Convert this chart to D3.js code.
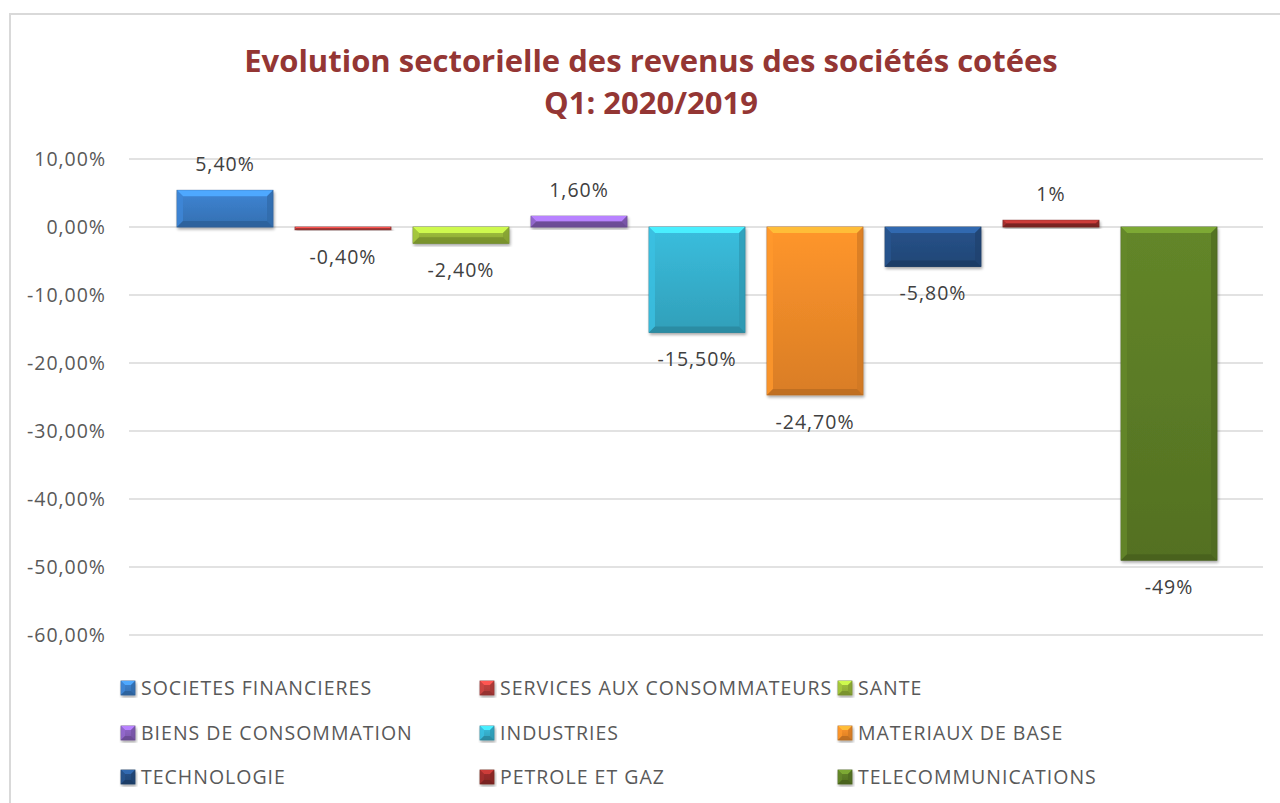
<!DOCTYPE html>
<html><head><meta charset="utf-8">
<script src="https://cdn.jsdelivr.net/npm/d3@7"></script>
<style>html,body{margin:0;padding:0;background:#fff;}svg{display:block;}</style>
</head><body>
<svg id="chart" width="1280" height="803"></svg>
<script>
const categories = ["SOCIETES FINANCIERES","SERVICES AUX CONSOMMATEURS","SANTE","BIENS DE CONSOMMATION","INDUSTRIES","MATERIAUX DE BASE","TECHNOLOGIE","PETROLE ET GAZ","TELECOMMUNICATIONS"];
const values = [5.4, -0.4, -2.4, 1.6, -15.5, -24.7, -5.8, 1, -49];
const valueLabels = ["5,40%","-0,40%","-2,40%","1,60%","-15,50%","-24,70%","-5,80%","1%","-49%"];
const colors = ["#3b7ec9","#c0413e","#9bbb3b","#8a62c0","#37b4d2","#f68e2a","#254f84","#9a2d2b","#5e7f27"];
const yTicks = [10,0,-10,-20,-30,-40,-50,-60];
const yTickLabels = ["10,00%","0,00%","-10,00%","-20,00%","-30,00%","-40,00%","-50,00%","-60,00%"];
const titleLines = ["Evolution sectorielle des revenus des sociétés cotées","Q1: 2020/2019"];

const FONT = "'Open Sans', Lato, sans-serif";
const FS = 19.5, LS = 1;
const svg = d3.select("#chart");
const defs = svg.append("defs");

// chart frame
svg.append("rect").attr("x",10).attr("y",14).attr("width",1290).attr("height",800)
  .attr("fill","#fff").attr("stroke","#d9d9d9").attr("stroke-width",2);

// title
svg.append("g").selectAll("text").data(titleLines).join("text")
  .attr("x",651).attr("y",(d,i)=>72+i*42).attr("text-anchor","middle")
  .attr("font-family",FONT).attr("font-weight","bold").attr("font-size",31)
  .attr("fill","#943634").text(d=>d);

const plotL = 129, plotR = 1263;
const y = d3.scaleLinear().domain([-60,10]).range([635,159]);
const x = d3.scaleBand().domain(categories).range([166,1228]).paddingInner(0.1864).paddingOuter(0.0932);

// gridlines
svg.append("g").selectAll("line").data(yTicks).join("line")
  .attr("x1",plotL).attr("x2",plotR).attr("y1",d=>y(d)).attr("y2",d=>y(d))
  .attr("stroke","#d9d9d9").attr("stroke-width",1.5);

// y axis labels via d3 axis
const yAxis = d3.axisLeft(y).tickValues(yTicks).tickSize(0).tickPadding(0)
  .tickFormat((d)=>yTickLabels[yTicks.indexOf(d)]);
const ga = svg.append("g").attr("transform","translate(106,0)").call(yAxis);
ga.select(".domain").remove();
ga.selectAll("text").attr("font-family",FONT).attr("font-size",FS).attr("letter-spacing",LS)
  .attr("fill","#595959").attr("dy","0.35em");

// shadow filter
const f = defs.append("filter").attr("id","shadow").attr("x","-20%").attr("y","-20%").attr("width","140%").attr("height","140%");
f.append("feGaussianBlur").attr("in","SourceAlpha").attr("stdDeviation",1.5).attr("result","b");
f.append("feOffset").attr("in","b").attr("dx",1).attr("dy",2).attr("result","o");
f.append("feComponentTransfer").attr("in","o").attr("result","t").append("feFuncA").attr("type","linear").attr("slope",0.35);
const fm = f.append("feMerge"); fm.append("feMergeNode").attr("in","t"); fm.append("feMergeNode").attr("in","SourceGraphic");

colors.forEach((c,i)=>{
  const g = defs.append("linearGradient").attr("id","grad"+i).attr("x1",0).attr("y1",0).attr("x2",0).attr("y2",1);
  g.append("stop").attr("offset","0%").attr("stop-color",d3.color(c).brighter(0.15));
  g.append("stop").attr("offset","100%").attr("stop-color",d3.color(c).darker(0.35));
});

function bevel(sel, x0, y0, w, h, i, b){
  const c = colors[i];
  const bb = Math.min(b, h/2, w/2);
  sel.append("rect").attr("x",x0).attr("y",y0).attr("width",w).attr("height",h)
    .attr("fill",`url(#grad${i})`).attr("stroke",d3.color(c).darker(0.9)).attr("stroke-width",0.8).attr("filter","url(#shadow)");
  const x1=x0+w, y1=y0+h;
  sel.append("polygon").attr("points",[[x0,y0],[x1,y0],[x1-bb,y0+bb],[x0+bb,y0+bb]].join(" "))
    .attr("fill",d3.color(c).brighter(0.8));
  sel.append("polygon").attr("points",[[x0,y0],[x0+bb,y0+bb],[x0+bb,y1-bb],[x0,y1]].join(" "))
    .attr("fill",d3.color(c).brighter(0.2)).attr("opacity",0.8);
  sel.append("polygon").attr("points",[[x1,y0],[x1-bb,y0+bb],[x1-bb,y1-bb],[x1,y1]].join(" "))
    .attr("fill",d3.color(c).darker(0.5)).attr("opacity",0.7);
  sel.append("polygon").attr("points",[[x0,y1],[x0+bb,y1-bb],[x1-bb,y1-bb],[x1,y1]].join(" "))
    .attr("fill",d3.color(c).darker(0.8)).attr("opacity",0.8);
}

// bars
const bars = svg.append("g");
categories.forEach((cat,i)=>{
  const v = values[i];
  const top = y(Math.max(0,v)), bot = y(Math.min(0,v));
  bevel(bars.append("g"), x(cat), top, x.bandwidth(), bot-top, i, 6);
});

// data labels
svg.append("g").selectAll("text").data(categories).join("text")
  .attr("x",d=>x(d)+x.bandwidth()/2)
  .attr("y",(d,i)=>values[i]>=0 ? y(values[i])-19 : y(values[i])+34)
  .attr("text-anchor","middle").attr("font-family",FONT).attr("font-size",FS).attr("letter-spacing",LS)
  .attr("fill","#404040")
  .text((d,i)=>valueLabels[i]);

// legend
const legCols = [121,480,838], legRows = [688,733,777];
const leg = svg.append("g");
categories.forEach((cat,i)=>{
  const cx = legCols[i%3], cy = legRows[Math.floor(i/3)];
  bevel(leg.append("g"), cx, cy-7, 14, 14, i, 4);
  leg.append("text").attr("x",cx+20).attr("y",cy).attr("dy","0.35em")
    .attr("font-family",FONT).attr("font-size",FS).attr("letter-spacing",LS)
    .attr("fill","#595959").text(cat);
});
</script>
</body></html>
